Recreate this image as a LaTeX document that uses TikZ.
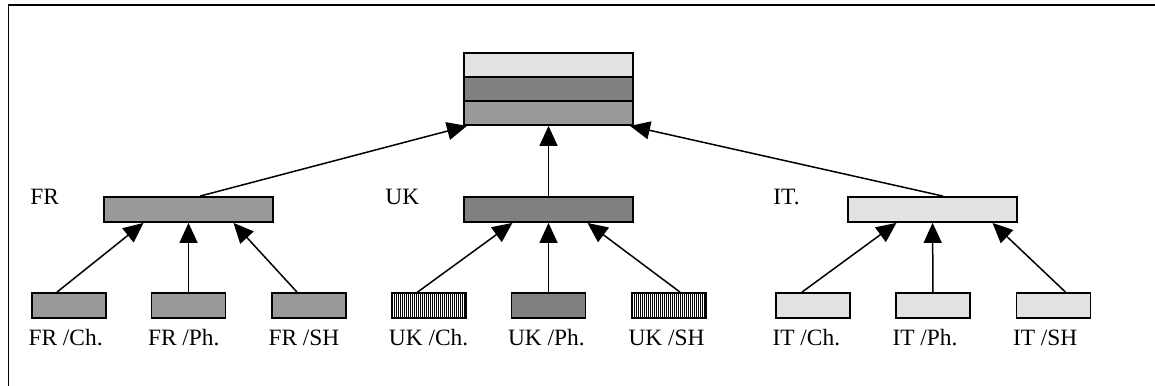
\documentclass[tikz,border=0pt]{standalone}
\usepackage{fontspec}
\setmainfont{Liberation Serif}
\usetikzlibrary{arrows.meta, positioning, patterns.meta}

\begin{document}
\begin{tikzpicture}[x=0.5pt, y=-0.5pt,
            box/.style={draw, line width=0.9pt, rectangle, inner sep=0pt, minimum height=12.5pt},
            big/.style={box, minimum width=84.5pt},
            small/.style={box, minimum width=37pt},
            band/.style={box, minimum width=84.5pt, minimum height=12pt},
            light/.style={fill=black!11},
            medium/.style={fill=black!40},
            dark/.style={fill=black!50},
            striped/.style={pattern={Lines[angle=90, distance=1pt, line width=0.5pt]}},
            lbl/.style={anchor=base west, inner sep=0pt, font=\fontsize{11.7}{13}\selectfont},
            arr/.style={-{Triangle[length=10pt, width=9pt]}, line width=0.75pt}]
            \useasboundingbox (0,0) rectangle (1155,385);
            % frame
            \draw[line width=0.9pt] (8.5,395) |- (1165,5);

            % top stacked box
            \node[band, light] (sumA) at (548.5,65) {};
            \node[band, dark] (sumB) at (548.5,89) {};
            \node[band, medium] (sumC) at (548.5,113) {};

            % country boxes
            \node[big, medium] (fr) at (188.5,209.5) {};
            \node[big, dark] (uk) at (548.5,209.5) {};
            \node[big, light] (it) at (932.5,209.5) {};
            \node[lbl] (frLbl) at (30,204) {FR};
            \node[lbl] (ukLbl) at (385,204) {UK};
            \node[lbl] (itLbl) at (773,204) {IT.};

            % subject boxes
            \node[small, medium] (frCh) at (69,305.5) {};
            \node[small, medium] (frPh) at (188.5,305.5) {};
            \node[small, medium] (frSH) at (309,305.5) {};
            \node[small, striped] (ukCh) at (429,305.5) {};
            \node[small, dark] (ukPh) at (548.5,305.5) {};
            \node[small, striped] (ukSH) at (669,305.5) {};
            \node[small, light] (itCh) at (813,305.5) {};
            \node[small, light] (itPh) at (933,305.5) {};
            \node[small, light] (itSH) at (1053.5,305.5) {};

            \node[lbl] (frChLbl) at ([xshift=-1.5pt, yshift=-13.5pt]frCh.south west) {FR /Ch.};
            \node[lbl] (frPhLbl) at ([xshift=-1.5pt, yshift=-13.5pt]frPh.south west) {FR /Ph.};
            \node[lbl] (frSHLbl) at ([xshift=-1.5pt, yshift=-13.5pt]frSH.south west) {FR /SH};
            \node[lbl] (ukChLbl) at ([xshift=-1.5pt, yshift=-13.5pt]ukCh.south west) {UK /Ch.};
            \node[lbl] (ukPhLbl) at ([xshift=-1.5pt, yshift=-13.5pt]ukPh.south west) {UK /Ph.};
            \node[lbl] (ukSHLbl) at ([xshift=-1.5pt, yshift=-13.5pt]ukSH.south west) {UK /SH};
            \node[lbl] (itChLbl) at ([xshift=-1.5pt, yshift=-13.5pt]itCh.south west) {IT /Ch.};
            \node[lbl] (itPhLbl) at ([xshift=-1.5pt, yshift=-13.5pt]itPh.south west) {IT /Ph.};
            \node[lbl] (itSHLbl) at ([xshift=-1.5pt, yshift=-13.5pt]itSH.south west) {IT /SH};

            % arrows
            \draw[arr] ([xshift=-6pt]frCh.north) -- ([xshift=-22.5pt]fr.south);
            \draw[arr] (frPh) -- (fr);
            \draw[arr] ([xshift=-6pt]frSH.north) -- ([xshift=22.5pt]fr.south);
            \draw[arr] ([xshift=-6pt]ukCh.north) -- ([xshift=-18pt]uk.south);
            \draw[arr] (ukPh) -- (uk);
            \draw[arr] ([xshift=5.5pt]ukSH.north) -- ([xshift=19.5pt]uk.south);
            \draw[arr] ([xshift=-5.5pt]itCh.north) -- ([xshift=-18pt]it.south);
            \draw[arr] (itPh) -- (it);
            \draw[arr] ([xshift=6pt]itSH.north) -- ([xshift=30pt]it.south);
            \draw[arr] ([xshift=5.75pt]fr.north) -- ([xshift=-40.75pt]sumC.south);
            \draw[arr] (uk) -- (sumC);
            \draw[arr] ([xshift=5.25pt]it.north) -- ([xshift=40.75pt]sumC.south);
        \end{tikzpicture}
\end{document}
